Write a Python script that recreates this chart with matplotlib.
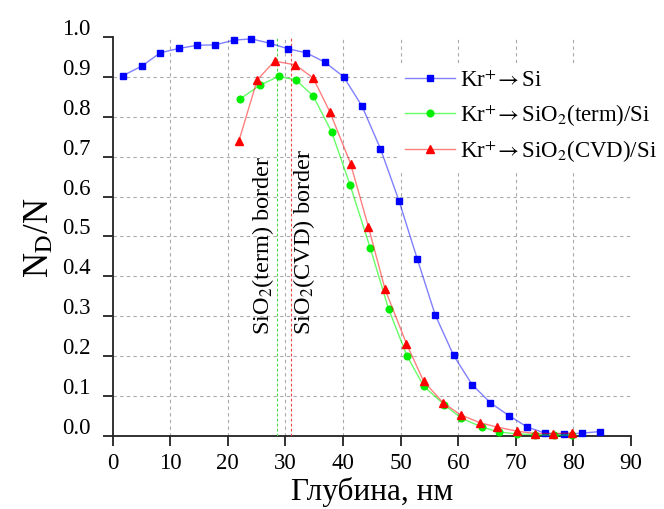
import numpy as np
import matplotlib
matplotlib.use('Agg')
import matplotlib.pyplot as plt
from matplotlib.transforms import ScaledTranslation

plt.rcParams['font.family'] = ['Liberation Serif', 'DejaVu Serif']
plt.rcParams['mathtext.fontset'] = 'stix'

# Kr+ -> Si
x_si = [1.8, 5.1, 8.25, 11.5, 14.7, 17.8, 21.1, 24.1, 27.3, 30.5, 33.6, 36.8, 40.1, 43.3,
        46.5, 49.7, 52.9, 56.0, 59.2, 62.4, 65.6, 68.8, 72.0, 75.1, 78.3, 81.5, 84.7]
y_si = [0.904, 0.928, 0.961, 0.972, 0.980, 0.981, 0.993, 0.996, 0.985, 0.971, 0.961, 0.938, 0.901, 0.827,
        0.720, 0.590, 0.443, 0.303, 0.201, 0.128, 0.082, 0.050, 0.021, 0.006, 0.003, 0.006, 0.010]

# Kr+ -> SiO2(term)/Si
x_term = [22.1, 25.5, 28.8, 31.8, 34.8, 38.0, 41.2, 44.7, 47.9, 51.1, 54.0, 57.6, 60.5, 64.1,
          67.1, 70.2, 73.4, 76.6, 79.8]
y_term = [0.845, 0.879, 0.902, 0.893, 0.853, 0.763, 0.630, 0.472, 0.318, 0.200, 0.124, 0.077, 0.044, 0.021,
          0.009, 0.004, 0.002, 0.001, 0.001]

# Kr+ -> SiO2(CVD)/Si
x_cvd = [21.9, 25.1, 28.1, 31.7, 34.8, 37.7, 41.3, 44.4, 47.3, 51.0, 54.0, 57.4, 60.4, 63.8,
         66.8, 70.2, 73.3, 76.5, 79.8]
y_cvd = [0.739, 0.893, 0.940, 0.931, 0.898, 0.813, 0.683, 0.524, 0.367, 0.231, 0.136, 0.082, 0.052, 0.032,
         0.021, 0.011, 0.005, 0.005, 0.006]

border_term = 28.6
border_cvd = 30.9

fig = plt.figure(figsize=(6.64, 5.10), dpi=100)
ax = fig.add_axes([0.1697, 0.1441, 0.7806, 0.7808])

ax.plot(x_si, y_si, color=(0, 0, 1, 0.5), lw=1.0, marker='s', ms=4.5,
        mfc='#0000ff', mec='#0000ff', clip_on=False, label=r'Kr$^{+}\!\rightarrow$Si', zorder=5)
ax.plot(x_term, y_term, color=(0, 1, 0, 0.6), lw=1.0, marker='o', ms=4.8,
        mfc='#00ee00', mec='#00ee00', clip_on=False, label=r'Kr$^{+}\!\rightarrow$SiO$_2$(term)/Si', zorder=5)
ax.plot(x_cvd, y_cvd, color=(1, 0, 0, 0.5), lw=1.0, marker='^', ms=5.4,
        mfc='#ff0000', mec='#ff0000', clip_on=False, label=r'Kr$^{+}\!\rightarrow$SiO$_2$(CVD)/Si', zorder=5)

ax.axvline(border_term, color='#44dd44', ls=(0, (2.5, 2)), lw=0.8, zorder=3)
ax.axvline(border_cvd, color='#ee4444', ls=(0, (2.5, 2)), lw=0.8, zorder=3)
ax.text(26.05, 0.255, r'SiO$_2$(term) border', rotation=90, ha='center', va='bottom', fontsize=17.5)
ax.text(33.3, 0.255, r'SiO$_2$(CVD) border', rotation=90, ha='center', va='bottom', fontsize=17.5)

ax.set_xlim(0, 90)
ax.set_ylim(0, 1.0)
ax.set_xticks(np.arange(0, 91, 10))
ax.set_yticks(np.arange(0, 1.01, 0.1))
ax.set_yticklabels(['%.1f' % v for v in np.arange(0, 1.01, 0.1)])

ax.grid(True, ls=(0, (3, 3)), color='#aaaaaa', lw=0.8, zorder=0)
ax.get_ygridlines()[-1].set_visible(False)
ax.get_xgridlines()[-1].set_visible(False)
ax.get_xgridlines()[0].set_visible(False)
ax.get_ygridlines()[0].set_visible(False)

for s in ['top', 'right']:
    ax.spines[s].set_visible(False)
for s in ['left', 'bottom']:
    ax.spines[s].set_linewidth(1.3)
    ax.spines[s].set_color('#222222')

ax.tick_params(direction='out', length=7, width=1.3, color='#222222', labelsize=16.5)
ax.tick_params(axis='y', pad=9)
ax.tick_params(axis='x', pad=5)
off = ScaledTranslation(0, 0.11, fig.dpi_scale_trans)
for lab in ax.get_yticklabels():
    lab.set_transform(lab.get_transform() + off)

ax.set_xlabel('Глубина, нм', fontsize=22.5, labelpad=2)
ax.set_ylabel(r'N$_\mathrm{D}$/N', fontsize=25, labelpad=4)

leg = ax.legend(loc='upper left', bbox_to_anchor=(0.599, 0.874), bbox_transform=fig.transFigure,
                fontsize=16.5, frameon=True, facecolor='white', edgecolor='none', framealpha=1,
                borderpad=0.3, handlelength=2.2, handletextpad=0.2, labelspacing=0.45,
                borderaxespad=0)
leg.set_zorder(10)

fig.savefig('out.png', dpi=100)
